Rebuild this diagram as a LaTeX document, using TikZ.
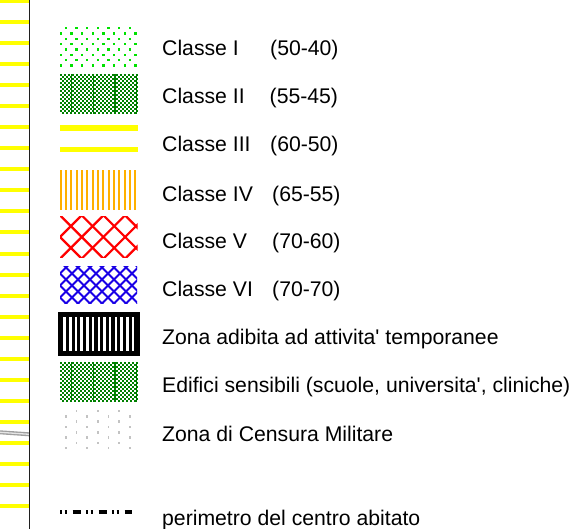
\documentclass[tikz,border=0pt]{standalone}
\usepackage{fontspec}
\newfontfamily\labfont{Liberation Sans}
\definecolor{ylw}{RGB}{255,255,0}
\definecolor{gdot}{RGB}{0,225,0}
\definecolor{dgreen}{RGB}{0,128,0}
\definecolor{orng}{RGB}{255,176,0}
\definecolor{bluec}{RGB}{25,0,230}
\definecolor{grdot}{RGB}{195,195,195}
\tikzset{
  lbl/.style={anchor=base west, inner sep=0pt, font=\labfont\fontsize{21.2}{25}\selectfont},
}
\newcommand\mychecker[1]{%
  \foreach \i in {0,...,38} {%
    \pgfmathtruncatemacro\o{mod(\i,2)}%
    \foreach \j in {0,2,...,18} {%
      \fill[dgreen] ({60+2*\i},{#1+2*(\j+\o)}) rectangle +(2,2);
    }%
  }%
  \foreach \xx in {71.8,93.3,115,136.8} \draw[dgreen,line width=1.1pt] (\xx,#1) -- (\xx,#1+40);
}
\begin{document}
\begin{tikzpicture}[x=1pt,y=-1pt]
\useasboundingbox (0,0) rectangle (573,529);
% left strip
\foreach \k in {0,...,24} \fill[ylw] (0,{0.7+21.07*\k-2}) rectangle (28.8,{0.7+21.07*\k+2});
\draw[line width=4pt,gray!75] (0,432.3) -- (29,434.3);
\draw[line width=1.3pt,gray!20] (0,432.3) -- (29,434.3);
\draw[line width=1.3pt,black!88] (29.6,0) -- (29.6,529);

% Classe I: green dots
\foreach \j in {0,...,7} {
  \pgfmathsetmacro\yy{28.3+5.29*\j}
  \ifodd\j
    \foreach \i in {0,...,7} \fill[gdot] ({60.7+10.7*\i-1.2},{\yy-1.2}) rectangle +(2.4,2.4);
  \else
    \foreach \i in {0,...,6} \fill[gdot] ({65.7+10.7*\i-1.2},{\yy-1.2}) rectangle +(2.4,2.4);
  \fi
}
% Classe II
\mychecker{74}
% Classe III
\fill[ylw] (60,125.2) rectangle (137.7,131);
\fill[ylw] (60,146.8) rectangle (137.7,152.3);
% Classe IV
\foreach \k in {0,...,14} \fill[orng] ({60.7+5.33*\k-1},170) rectangle +(2,40);
% Classe V
\begin{scope}
  \clip (60,217) rectangle (137.5,258);
  \foreach \m in {-2,...,6} {
    \draw[red,line width=2.2pt] ({-177+21.7*\m+200},200) -- ({-177+21.7*\m+280},280);
    \draw[red,line width=2.2pt] ({297+21.7*\m-200},200) -- ({297+21.7*\m-280},280);
  }
\end{scope}
% Classe VI
\begin{scope}
  \clip (60,267) rectangle (137,304);
  \foreach \m in {-4,...,12} {
    \draw[bluec,line width=2pt] ({-225.5+12*\m+250},250) -- ({-225.5+12*\m+320},320);
    \draw[bluec,line width=2pt] ({345.5+12*\m-250},250) -- ({345.5+12*\m-320},320);
  }
\end{scope}
% Zona adibita
\fill[black] (58,312) rectangle (139.5,356);
\foreach \k in {0,...,12} \fill[white] ({63.3+5.7*\k},317) rectangle +(2.5,34);
% Edifici sensibili
\mychecker{362}
% Zona di Censura
\foreach \j in {0,...,7} {
  \pgfmathsetmacro\yy{411+5.3*\j}
  \ifodd\j
    \foreach \i in {0,2,4,6} \fill[grdot] ({65.7+10.7*\i-0.8},{\yy-1.3}) rectangle +(1.6,2.6);
  \else
    \foreach \i in {1,3,5} \fill[grdot] ({65.7+10.7*\i-0.8},{\yy-1.3}) rectangle +(1.6,2.6);
  \fi
}
% perimetro
\draw[black,line width=4.8pt,dash pattern=on 2.3pt off 2.4pt on 2pt off 6pt on 8pt off 5.3pt] (60,512) -- (132,512);

% labels
\node[lbl] (t1) at (162,56) {Classe I};      \node[lbl] (n1) at (270,56) {(50-40)};
\node[lbl] (t2) at (162,103.5) {Classe II};  \node[lbl] (n2) at (269.5,103.5) {(55-45)};
\node[lbl] (t3) at (162,151.5) {Classe III}; \node[lbl] (n3) at (270,151.5) {(60-50)};
\node[lbl] (t4) at (162,201.5) {Classe IV};  \node[lbl] (n4) at (272,201.5) {(65-55)};
\node[lbl] (t5) at (162,249) {Classe V};     \node[lbl] (n5) at (272,249) {(70-60)};
\node[lbl] (t6) at (162,297) {Classe VI};    \node[lbl] (n6) at (272,297) {(70-70)};
\node[lbl] (t7) at (162,344.5) {Zona adibita ad attivita' temporanee};
\node[lbl] (t8) at (162,392) {Edifici sensibili (scuole, universita', cliniche)};
\node[lbl] (t9) at (162,441.5) {Zona di Censura Militare};
\node[lbl] (t10) at (162,525) {perimetro del centro abitato};
\end{tikzpicture}
\end{document}
